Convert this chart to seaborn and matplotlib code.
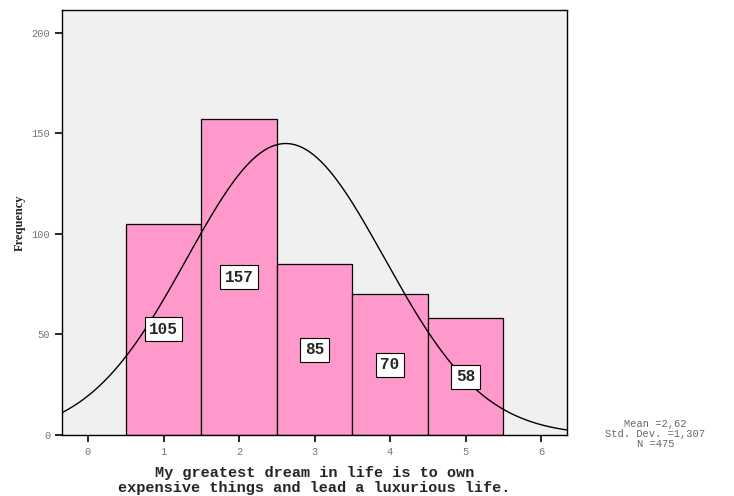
import numpy as np
import pandas as pd
import matplotlib
matplotlib.use("Agg")
import matplotlib.pyplot as plt
import seaborn as sns

# Data
scores = [1, 2, 3, 4, 5]
counts = [105, 157, 85, 70, 58]
xlabel = "My greatest dream in life is to own\nexpensive things and lead a luxurious life."

df = pd.DataFrame({"score": scores, "count": counts})
n = int(np.sum(counts))
mean = np.average(scores, weights=counts)
sd = np.sqrt(np.sum(np.array(counts) * (np.array(scores) - mean) ** 2) / (n - 1))

sns.set_style("white")
plt.rcParams["font.family"] = ["Liberation Mono", "DejaVu Sans Mono"]

fig = plt.figure(figsize=(7.34, 4.96), dpi=100)
ax = fig.add_axes([0.0845, 0.123, 0.688, 0.857])
ax.set_facecolor("#f0f0f0")

sns.histplot(data=df, x="score", weights="count", discrete=True, ax=ax,
             color="#ff99cc", alpha=1, edgecolor="black", linewidth=0.9)

# normal curve
xs = np.linspace(-0.4, 6.4, 400)
ys = n * 1.0 / (sd * np.sqrt(2 * np.pi)) * np.exp(-0.5 * ((xs - mean) / sd) ** 2)
ax.plot(xs, ys, color="black", linewidth=1)

# count labels
for s, c in zip(scores, counts):
    ax.text(s, c / 2, str(c), ha="center", va="center", fontsize=11.5, fontweight="bold",
            bbox=dict(boxstyle="square,pad=0.28", fc="white", ec="black", lw=0.8))

ax.set_xlim(-0.344, 6.344)
ax.set_ylim(0, 211.4)
ax.set_xticks(range(0, 7))
ax.set_yticks([0, 50, 100, 150, 200])
ax.tick_params(axis="both", direction="out", length=5, width=1.2, color="black",
               labelsize=7.5, labelcolor="#777777", bottom=True, left=True)
ax.tick_params(axis="x", pad=4)
for sp in ax.spines.values():
    sp.set_visible(True)
    sp.set_color("black")
    sp.set_linewidth(1)

ax.set_xlabel(xlabel, fontsize=11, fontweight="bold", linespacing=1.1)
ax.xaxis.set_label_coords(0.5, -0.072)
ax.set_ylabel("Frequency", fontsize=9, fontweight="bold", family="Liberation Serif",
              labelpad=4)

fig.text(0.893, 0.126, "Mean =%s\nStd. Dev. =%s\nN =%d" % (
    ("%.2f" % mean).replace(".", ","), ("%.3f" % sd).replace(".", ","), n),
    ha="center", va="center", fontsize=7.5, color="#666666", linespacing=1.0)

fig.savefig("out.png", dpi=100)
